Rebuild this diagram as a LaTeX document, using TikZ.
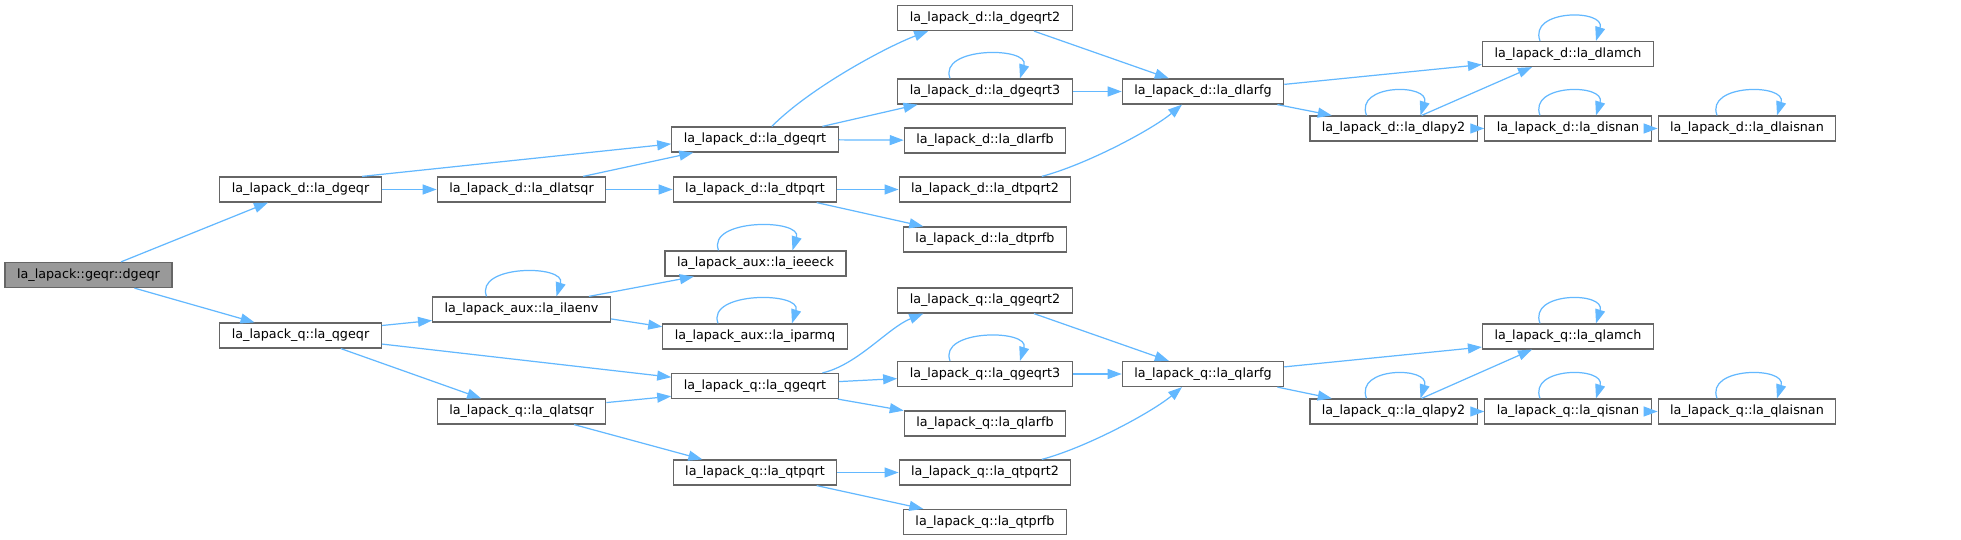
\documentclass[tikz,border=0pt]{standalone}
\usepackage{fontspec}
\setmainfont{DejaVu Sans}
\usetikzlibrary{arrows.meta,calc}
\definecolor{edgeblue}{HTML}{63B8FF}
\definecolor{boxgray}{HTML}{666666}
\definecolor{rootgray}{HTML}{999999}
\begin{document}
\begin{tikzpicture}[x=0.02cm, y=-0.02cm,
  fn/.style={draw=boxgray, fill=white, line width=0.7pt, minimum height=0.5cm,
    inner xsep=0.24cm, inner ysep=0pt, font=\fontsize{7.25}{8.7}\selectfont},
  edge/.style={draw=edgeblue, line width=0.7pt, -{Triangle[length=0.28cm,width=0.2cm]}}]
  \useasboundingbox (0,0) rectangle (1961,540);

  % caller and first level
  \node[fn, fill=rootgray] (root) at (88.5,275) {la\_lapack::geqr::dgeqr};
  \node[fn] (dgeqr) at (300.5,189.5) {la\_lapack\_d::la\_dgeqr};
  \node[fn] (qgeqr) at (300.5,335.5) {la\_lapack\_q::la\_qgeqr};

  % double precision branch
  \node[fn] (dlatsqr) at (521.5,189.5) {la\_lapack\_d::la\_dlatsqr};
  \node[fn] (dgeqrt) at (755,139.5) {la\_lapack\_d::la\_dgeqrt};
  \node[fn] (dtpqrt) at (755,189.5) {la\_lapack\_d::la\_dtpqrt};
  \node[fn] (dgeqrt2) at (985,18) {la\_lapack\_d::la\_dgeqrt2};
  \node[fn] (dgeqrt3) at (985,91.5) {la\_lapack\_d::la\_dgeqrt3};
  \node[fn] (dlarfb) at (985,140.5) {la\_lapack\_d::la\_dlarfb};
  \node[fn] (dtpqrt2) at (985,189.5) {la\_lapack\_d::la\_dtpqrt2};
  \node[fn] (dtprfb) at (985,239.5) {la\_lapack\_d::la\_dtprfb};
  \node[fn] (dlarfg) at (1203,91.5) {la\_lapack\_d::la\_dlarfg};
  \node[fn] (dlamch) at (1568,54) {la\_lapack\_d::la\_dlamch};
  \node[fn] (dlapy2) at (1393.5,128.5) {la\_lapack\_d::la\_dlapy2};
  \node[fn] (disnan) at (1568,128.5) {la\_lapack\_d::la\_disnan};
  \node[fn] (dlaisnan) at (1747,128.5) {la\_lapack\_d::la\_dlaisnan};

  % aux
  \node[fn] (ilaenv) at (521.5,309.5) {la\_lapack\_aux::la\_ilaenv};
  \node[fn] (ieeeck) at (755.5,263.5) {la\_lapack\_aux::la\_ieeeck};
  \node[fn] (iparmq) at (755,336.5) {la\_lapack\_aux::la\_iparmq};

  % quad precision branch
  \node[fn] (qlatsqr) at (521.5,411.5) {la\_lapack\_q::la\_qlatsqr};
  \node[fn] (qgeqrt) at (755,386) {la\_lapack\_q::la\_qgeqrt};
  \node[fn] (qtpqrt) at (755,472.5) {la\_lapack\_q::la\_qtpqrt};
  \node[fn] (qgeqrt2) at (985,300.5) {la\_lapack\_q::la\_qgeqrt2};
  \node[fn] (qgeqrt3) at (985,374) {la\_lapack\_q::la\_qgeqrt3};
  \node[fn] (qlarfb) at (985,423.5) {la\_lapack\_q::la\_qlarfb};
  \node[fn] (qtpqrt2) at (985,472.5) {la\_lapack\_q::la\_qtpqrt2};
  \node[fn] (qtprfb) at (985,522) {la\_lapack\_q::la\_qtprfb};
  \node[fn] (qlarfg) at (1203,374) {la\_lapack\_q::la\_qlarfg};
  \node[fn] (qlamch) at (1568,336.5) {la\_lapack\_q::la\_qlamch};
  \node[fn] (qlapy2) at (1393.5,411.5) {la\_lapack\_q::la\_qlapy2};
  \node[fn] (qisnan) at (1568,411.5) {la\_lapack\_q::la\_qisnan};
  \node[fn] (qlaisnan) at (1747,411.5) {la\_lapack\_q::la\_qlaisnan};

  % calls
  \draw[edge] (root) -- (dgeqr);
  \draw[edge] (root) -- (qgeqr);

  \draw[edge] (dgeqr.12) -- (dgeqrt.183);
  \draw[edge] (dgeqr) -- (dlatsqr);
  \draw[edge] (dlatsqr.12) -- (dgeqrt.192);
  \draw[edge] (dlatsqr) -- (dtpqrt);
  \draw[edge] (dgeqrt.38) .. controls +(40,-40) and +(-40,15) .. (dgeqrt2.193);
  \draw[edge] (dgeqrt.11) -- (dgeqrt3.191);
  \draw[edge] (dgeqrt) -- (dlarfb);
  \draw[edge] (dgeqrt2.345) -- (dlarfg.159);
  \draw[edge] (dgeqrt3) -- (dlarfg);
  \draw[edge] (dtpqrt) -- (dtpqrt2);
  \draw[edge] (dtpqrt.348) -- (dtprfb.168);
  \draw[edge] (dtpqrt2.13) .. controls +(45,-12) and +(-30,25) .. (dlarfg.212);
  \draw[edge] (dlarfg.5) -- (dlamch.187);
  \draw[edge] (dlarfg.350) -- (dlapy2.168);
  \draw[edge] (dlapy2.25) -- (dlamch.200);
  \draw[edge] (dlapy2) -- (disnan);
  \draw[edge] (disnan) -- (dlaisnan);

  \draw[edge] (qgeqr.7) -- (ilaenv.187);
  \draw[edge] (qgeqr.354) -- (qgeqrt.174);
  \draw[edge] (qgeqr.342) -- (qlatsqr.162);
  \draw[edge] (ilaenv.11) -- (ieeeck.192);
  \draw[edge] (ilaenv.354) -- (iparmq.174);
  \draw[edge] (qlatsqr.6) -- (qgeqrt.187);
  \draw[edge] (qlatsqr.346) -- (qtpqrt.166);
  \draw[edge] (qgeqrt.11) .. controls +(35,-8) and +(-35,14) .. (qgeqrt2.192);
  \draw[edge] (qgeqrt.3) -- (qgeqrt3.183);
  \draw[edge] (qgeqrt.351) -- (qlarfb.171);
  \draw[edge] (qgeqrt2.345) -- (qlarfg.159);
  \draw[edge] (qgeqrt3) -- (qlarfg);
  \draw[edge] (qtpqrt) -- (qtpqrt2);
  \draw[edge] (qtpqrt.348) -- (qtprfb.168);
  \draw[edge] (qtpqrt2.13) .. controls +(45,-12) and +(-30,25) .. (qlarfg.212);
  \draw[edge] (qlarfg.5) -- (qlamch.187);
  \draw[edge] (qlarfg.350) -- (qlapy2.168);
  \draw[edge] (qlapy2.25) -- (qlamch.200);
  \draw[edge] (qlapy2) -- (qisnan);
  \draw[edge] (qisnan) -- (qlaisnan);

  % recursive calls
  \foreach \n/\w in {dgeqrt3/35, dlamch/28, dlapy2/27, disnan/28, dlaisnan/30,
      ilaenv/35, ieeeck/37, iparmq/37,
      qgeqrt3/35, qlamch/28, qlapy2/27, qisnan/28, qlaisnan/30}
    \draw[edge] ($(\n.north)+(-\w,0)$) .. controls +(-12,-32) and +(10,-32) .. ($(\n.north)+(\w,0)$);
\end{tikzpicture}
\end{document}
